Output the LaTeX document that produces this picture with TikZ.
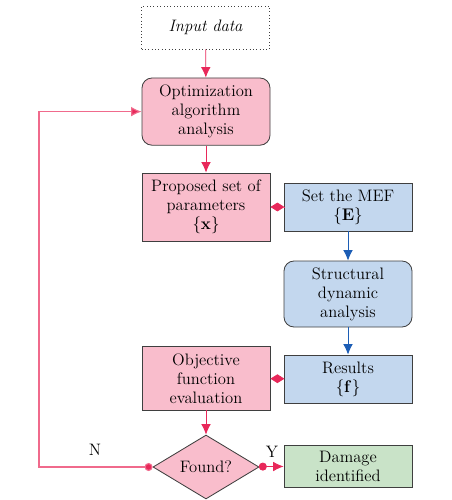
\documentclass[tikz,border=0pt]{standalone}
\usepackage{amsmath}
\usepackage{xcolor}
\usetikzlibrary{arrows.meta, shapes.geometric}

\definecolor{boxpink}{HTML}{F9BDCC}
\definecolor{boxblue}{HTML}{C3D7EE}
\definecolor{boxgreen}{HTML}{C9E3C8}
\definecolor{linepink}{HTML}{E8285A}
\definecolor{looppink}{HTML}{F06A8C}
\definecolor{lineblue}{HTML}{1C5DB5}
\definecolor{edgegray}{HTML}{3F3F3F}

\begin{document}
\begin{tikzpicture}[
		every node/.style={font=\fontsize{11.8}{13.5}\selectfont, align=center},
		block/.style={draw=edgegray, semithick, minimum width=3.2cm, inner sep=1pt},
		pinkbox/.style={block, fill=boxpink},
		bluebox/.style={block, fill=boxblue},
		greenbox/.style={block, fill=boxgreen},
		pinkline/.style={linepink, semithick, -{Latex[length=2.6mm, width=2.4mm]}},
		blueline/.style={lineblue, semithick, -{Latex[length=2.6mm, width=2.4mm]}},
		diamondline/.style={linepink, semithick, -{Diamond[length=3.5mm, width=2.2mm]}}
	]

		\useasboundingbox (0, 0) rectangle (11.3, -12.5);

		\node[draw=edgegray, dotted, minimum width=3.2cm, minimum height=1.08cm] (input) at (5.14, -0.69) {\itshape Input data};
		\node[pinkbox, rounded corners=2.5mm, minimum height=1.68cm] (optim) at (5.15, -2.79) {Optimization\\algorithm\\analysis};
		\node[pinkbox, minimum height=1.7cm] (params) at (5.15, -5.175) {Proposed set of\\parameters\\$\{\mathbf{x}\}$};
		\node[bluebox, minimum height=1.2cm] (mef) at (8.7, -5.175) {Set the MEF\\$\{\mathbf{E}\}$};
		\node[bluebox, rounded corners=2.5mm, minimum height=1.65cm] (struct) at (8.7, -7.35) {Structural\\dynamic\\analysis};
		\node[bluebox, minimum height=1.2cm] (results) at (8.7, -9.475) {Results\\$\{\mathbf{f}\}$};
		\node[pinkbox, minimum height=1.58cm] (objective) at (5.15, -9.46) {Objective\\function\\evaluation};
		\node[diamond, draw=edgegray, semithick, fill=boxpink, minimum width=2.65cm, minimum height=1.35cm, inner sep=0pt] (found) at (5.15, -11.675) {Found?};
		\node[greenbox, minimum height=1.05cm] (damage) at (8.7, -11.65) {Damage\\identified};

		\coordinate (loopdown) at (0.975, -11.675);
		\coordinate (loopup) at (0.975, -2.79);

		\draw[pinkline] (input) -- (optim);
		\draw[pinkline] (optim) -- (params);
		\draw[diamondline] (mef) -- (params);
		\draw[blueline] (mef) -- (struct);
		\draw[blueline] (struct) -- (results);
		\draw[diamondline] (results) -- (objective);
		\draw[pinkline] (objective) -- (found);
		\draw[linepink, semithick, {Circle[length=2mm]}-{Latex[length=2.6mm, width=2.4mm]}] (found) -- (damage);
		\draw[looppink, line width=0.8pt, {Circle[length=2mm, fill=linepink]}-{Latex[length=2.6mm, width=2.4mm, fill=linepink]}] (found.west) -- (loopdown) -- (loopup) -- (optim.west);

		\node (nlabel) at (2.375, -11.25) {N};
		\node (ylabel) at (6.8, -11.3) {Y};
	\end{tikzpicture}
\end{document}
